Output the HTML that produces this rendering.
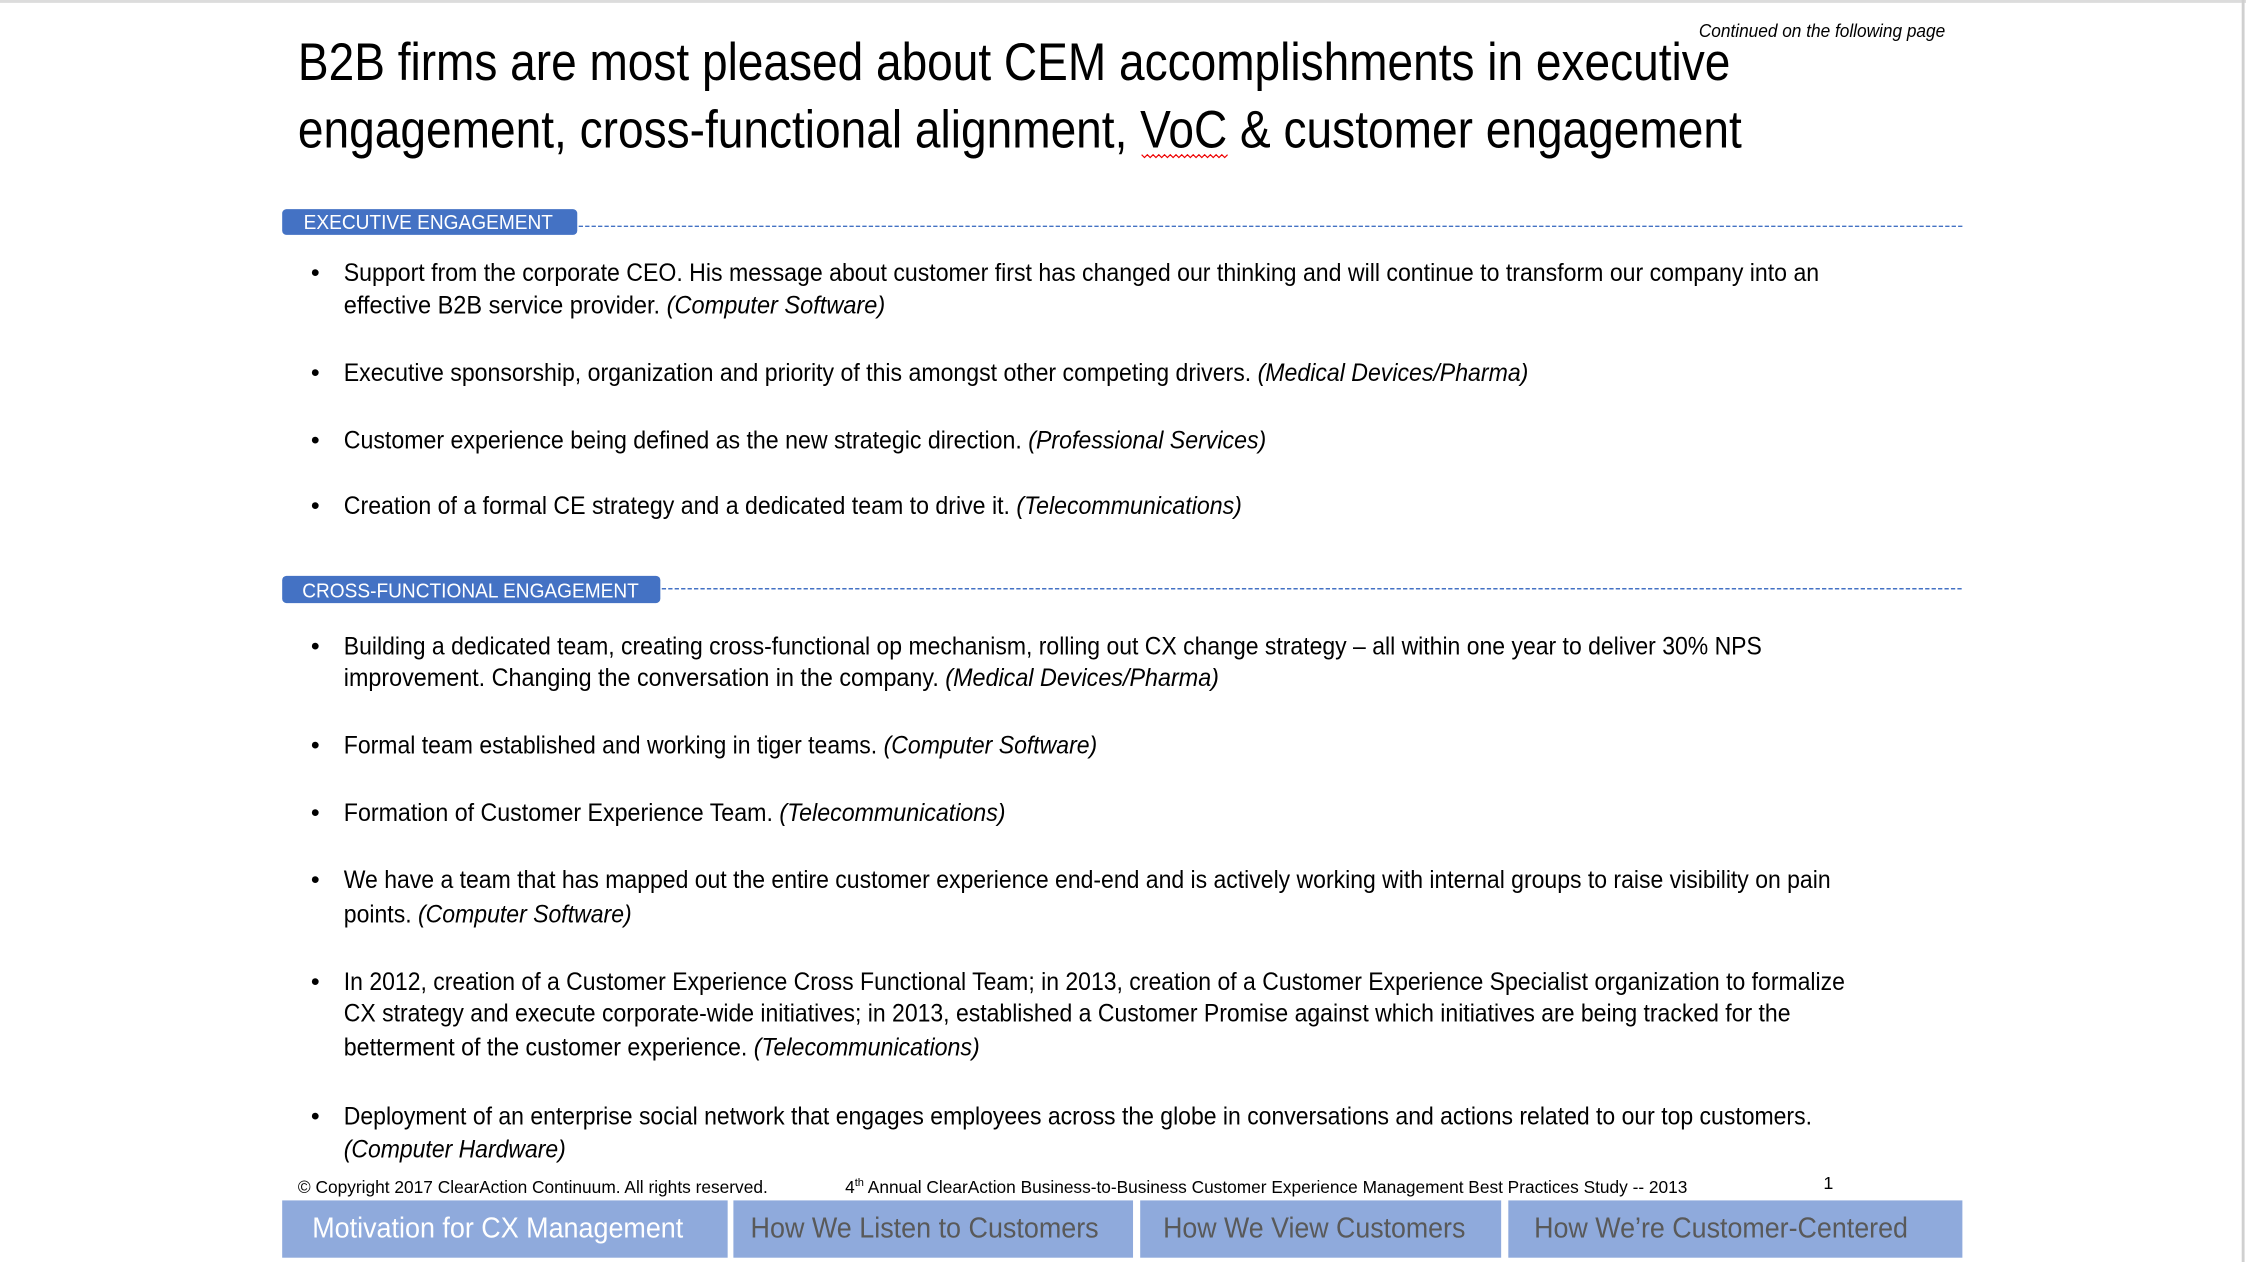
<!DOCTYPE html>
<html><head><meta charset="utf-8"><style>
html,body{margin:0;padding:0;background:#fff;}
svg{display:block;}
text{font-family:"Liberation Sans",Arial,sans-serif;}
</style></head><body>
<svg width="2246" height="1262" viewBox="0 0 1568 881" preserveAspectRatio="none" xmlns="http://www.w3.org/2000/svg">
<rect width="1568" height="881" fill="#fff"/>
<rect x="0" y="0" width="1568" height="2" fill="#dcdcdc"/>
<rect x="1565" y="0" width="2" height="881" fill="#d0d0d0"/>

<text x="1186" y="26" font-size="13" font-style="italic" textLength="172" lengthAdjust="spacingAndGlyphs">Continued on the following page</text>
<g font-size="37" fill="#000">
<text x="208" y="56" textLength="1000" lengthAdjust="spacingAndGlyphs">B2B firms are most pleased about CEM accomplishments in executive</text>
<text x="208" y="103" textLength="1008" lengthAdjust="spacingAndGlyphs">engagement, cross-functional alignment, VoC &amp; customer engagement</text>
</g>
<path d="M797 108 l2 2 l2 -2 l2 2 l2 -2 l2 2 l2 -2 l2 2 l2 -2 l2 2 l2 -2 l2 2 l2 -2 l2 2 l2 -2 l2 2 l2 -2 l2 2 l2 -2 l2 2 l2 -2 l2 2 l2 -2 l2 2 l2 -2 l2 2 l2 -2 l2 2 l2 -2 l2 2 l2 -2" stroke="#e00" stroke-width="0.8" fill="none"/>

<g>
<rect x="197" y="146" width="206" height="18" rx="3" fill="#4472c4"/>
<text x="212" y="160" font-size="14" fill="#fff" textLength="174" lengthAdjust="spacingAndGlyphs">EXECUTIVE ENGAGEMENT</text>
<line x1="404" y1="158" x2="1370" y2="158" stroke="#4472c4" stroke-width="1" stroke-dasharray="3,1.5"/>
</g>

<g font-size="17.5" fill="#000">
<text x="217" y="196">•</text>
<text x="240" y="196" textLength="1030" lengthAdjust="spacingAndGlyphs">Support from the corporate CEO.  His message about customer first has changed our thinking and will continue to transform our company into an</text>
<text x="240" y="219" textLength="378" lengthAdjust="spacingAndGlyphs">effective B2B service provider.    <tspan font-style="italic">(Computer Software)</tspan></text>
<text x="217" y="266">•</text>
<text x="240" y="266" textLength="827" lengthAdjust="spacingAndGlyphs">Executive sponsorship, organization and priority of this amongst other competing drivers.  <tspan font-style="italic">(Medical Devices/Pharma)</tspan></text>
<text x="217" y="313">•</text>
<text x="240" y="313" textLength="644" lengthAdjust="spacingAndGlyphs">Customer experience being defined as the new strategic direction.  <tspan font-style="italic">(Professional Services)</tspan></text>
<text x="217" y="359">•</text>
<text x="240" y="359" textLength="627" lengthAdjust="spacingAndGlyphs">Creation of a formal CE strategy and a dedicated team to drive it.  <tspan font-style="italic">(Telecommunications)</tspan></text>
</g>

<g>
<rect x="197" y="402" width="264" height="19" rx="3" fill="#4472c4"/>
<text x="211" y="417" font-size="14" fill="#fff" textLength="235" lengthAdjust="spacingAndGlyphs">CROSS-FUNCTIONAL ENGAGEMENT</text>
<line x1="462" y1="411" x2="1370" y2="411" stroke="#4472c4" stroke-width="1" stroke-dasharray="3,1.5"/>
</g>

<g font-size="17.5" fill="#000">
<text x="217" y="457">•</text>
<text x="240" y="457" textLength="990" lengthAdjust="spacingAndGlyphs">Building a dedicated team, creating cross-functional op mechanism, rolling out CX change strategy – all within one year to deliver 30% NPS</text>
<text x="240" y="479" textLength="611" lengthAdjust="spacingAndGlyphs">improvement.  Changing the conversation in the company.  <tspan font-style="italic">(Medical Devices/Pharma)</tspan></text>
<text x="217" y="526">•</text>
<text x="240" y="526" textLength="526" lengthAdjust="spacingAndGlyphs">Formal team established and working in tiger teams. <tspan font-style="italic">(Computer Software)</tspan></text>
<text x="217" y="573">•</text>
<text x="240" y="573" textLength="462" lengthAdjust="spacingAndGlyphs">Formation of Customer Experience Team.  <tspan font-style="italic">(Telecommunications)</tspan></text>
<text x="217" y="620">•</text>
<text x="240" y="620" textLength="1038" lengthAdjust="spacingAndGlyphs">We have a team that has mapped out the entire customer experience end-end and is actively working with internal groups to raise visibility on pain</text>
<text x="240" y="644" textLength="201" lengthAdjust="spacingAndGlyphs">points. <tspan font-style="italic">(Computer Software)</tspan></text>
<text x="217" y="691">•</text>
<text x="240" y="691" textLength="1048" lengthAdjust="spacingAndGlyphs">In 2012, creation of a Customer Experience Cross Functional Team; in 2013, creation of a Customer Experience Specialist organization to formalize</text>
<text x="240" y="713" textLength="1010" lengthAdjust="spacingAndGlyphs">CX strategy and execute corporate-wide initiatives; in 2013, established a Customer Promise against which initiatives are being tracked for the</text>
<text x="240" y="737" textLength="444" lengthAdjust="spacingAndGlyphs">betterment of the customer experience.  <tspan font-style="italic">(Telecommunications)</tspan></text>
<text x="217" y="785">•</text>
<text x="240" y="785" textLength="1025" lengthAdjust="spacingAndGlyphs">Deployment of an enterprise social network that engages employees across the globe in conversations and actions related to our top customers.</text>
<text x="240" y="808" font-style="italic" textLength="155" lengthAdjust="spacingAndGlyphs">(Computer Hardware)</text>
</g>

<g font-size="12.5" fill="#000">
<text x="208" y="833" textLength="328" lengthAdjust="spacingAndGlyphs">© Copyright 2017 ClearAction Continuum. All rights reserved.</text>
<text x="590" y="833" textLength="588" lengthAdjust="spacingAndGlyphs">4<tspan font-size="8" dy="-5">th</tspan><tspan dy="5"> Annual ClearAction Business-to-Business Customer Experience Management Best Practices Study -- 2013</tspan></text>
<text x="1273" y="830">1</text>
</g>

<g font-size="20">
<g>
<rect x="197" y="838" width="311" height="40" fill="#8faadc"/>
<text x="218" y="864" fill="#fff" textLength="259" lengthAdjust="spacingAndGlyphs">Motivation for CX Management</text>
</g>
<g>
<rect x="512" y="838" width="279" height="40" fill="#8faadc"/>
<text x="524" y="864" fill="#595959" textLength="243" lengthAdjust="spacingAndGlyphs">How We Listen to Customers</text>
</g>
<g>
<rect x="796" y="838" width="252" height="40" fill="#8faadc"/>
<text x="812" y="864" fill="#595959" textLength="211" lengthAdjust="spacingAndGlyphs">How We View Customers</text>
</g>
<g>
<rect x="1053" y="838" width="317" height="40" fill="#8faadc"/>
<text x="1071" y="864" fill="#595959" textLength="261" lengthAdjust="spacingAndGlyphs">How We’re Customer-Centered</text>
</g>
</g>
</svg>
</body></html>
